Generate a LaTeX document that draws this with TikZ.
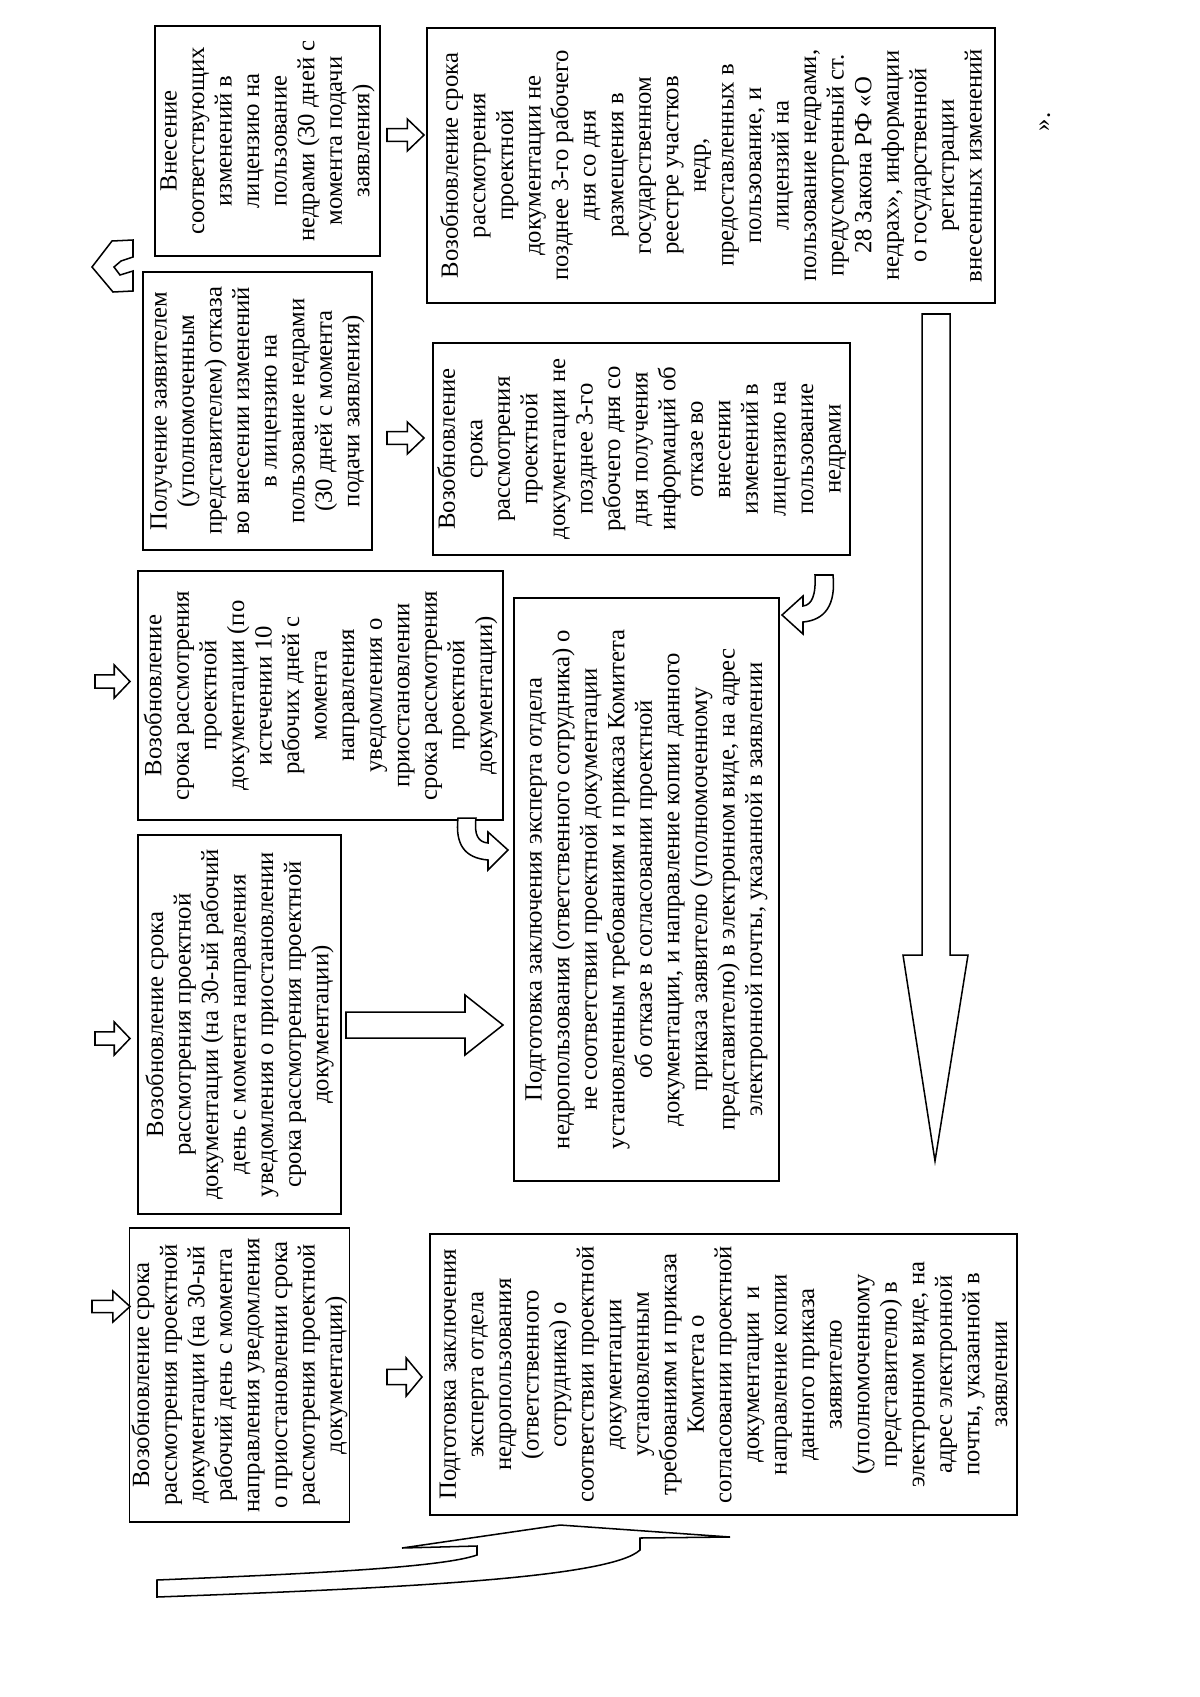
\documentclass[tikz,border=0pt]{standalone}
\usepackage{fontspec}
\setmainfont{Liberation Serif}
\begin{document}
\begin{tikzpicture}[x=0.0185cm,y=-0.0185cm,
  box/.style={draw, line width=0.8pt, rotate=90, align=center, inner sep=1pt,
    font=\fontsize{13}{14.5}\selectfont},
  blk/.style={draw, line width=0.8pt, fill=white, line join=miter}]
\useasboundingbox (0,0) rectangle (1200,1697);
\newcommand\bx[6]{\node[box, minimum width={(#5-#3)*0.0185cm}, minimum height={(#4-#2)*0.0185cm}] (#1) at ({(#2+#4)/2},{(#3+#5)/2}) {#6};}
\newcommand\rarr[4]{\draw[blk] (#1,{#2+0.3*(#4-#2)}) -- ({#1+0.55*(#3-#1)},{#2+0.3*(#4-#2)}) -- ({#1+0.55*(#3-#1)},#2) -- (#3,{(#2+#4)/2}) -- ({#1+0.55*(#3-#1)},#4) -- ({#1+0.55*(#3-#1)},{#2+0.7*(#4-#2)}) -- (#1,{#2+0.7*(#4-#2)}) -- cycle;}
% boxes
\bx{A}{155}{26}{380}{256}{Внесение\\соответствующих\\изменений в\\лицензию на\\пользование\\недрами (30 дней с\\момента подачи\\заявления)}
\bx{B}{143}{272}{372}{550}{Получение заявителем\\(уполномоченным\\представителем) отказа\\во внесении изменений\\в лицензию на\\пользование недрами\\(30 дней с момента\\подачи заявления)}
\bx{C}{427}{28}{995}{303}{Возобновление срока\\рассмотрения\\проектной\\документации не\\позднее 3-го рабочего\\дня со дня\\размещения в\\государственном\\реестре участков\\недр,\\предоставленных в\\пользование, и\\лицензий на\\пользование недрами,\\предусмотренный ст.\\28 Закона РФ «О\\недрах», информации\\о государственной\\регистрации\\внесенных изменений}
\bx{D}{433}{343}{850}{555}{Возобновление\\срока\\рассмотрения\\проектной\\документации не\\позднее 3-го\\рабочего дня со\\дня получения\\информаций об\\отказе во\\внесении\\изменений в\\лицензию на\\пользование\\недрами}
\bx{E}{138}{571}{503}{820}{Возобновление\\срока рассмотрения\\проектной\\документации (по\\истечении 10\\рабочих дней с\\момента\\направления\\уведомления о\\приостановлении\\срока рассмотрения\\проектной\\документации)}
\bx{F}{514}{598}{779}{1181}{Подготовка заключения эксперта отдела\\недропользования (ответственного сотрудника) о\\не соответствии проектной документации\\установленным требованиям и приказа Комитета\\об отказе в согласовании проектной\\документации, и направление копии данного\\приказа заявителю (уполномоченному\\представителю) в электронном виде, на адрес\\электронной почты, указанной в заявлении}
\bx{G}{138}{835}{341}{1214}{Возобновление срока\\рассмотрения проектной\\документации (на 30-ый рабочий\\день с момента направления\\уведомления о приостановлении\\срока рассмотрения проектной\\документации)}
\bx{H}{138}{1228}{341}{1522}{Возобновление срока\\рассмотрения проектной\\документации (на 30-ый\\рабочий день с момента\\направления уведомления\\о приостановлении срока\\рассмотрения проектной\\документации)}
\bx{I}{430}{1234}{1017}{1515}{Подготовка заключения\\эксперта отдела\\недропользования\\(ответственного\\сотрудника) о\\соответствии проектной\\документации\\установленным\\требованиям и приказа\\Комитета о\\согласовании проектной\\документации \ и\\направление копии\\данного приказа\\заявителю\\(уполномоченному\\представителю) в\\электронном виде, на\\адрес электронной\\почты, указанной в\\заявлении}
% small block arrows
\rarr{387}{119}{424}{151}
\rarr{387}{422}{424}{454}
\rarr{387}{1358}{422}{1396}
\rarr{95}{665}{130}{698}
\rarr{95}{1022}{130}{1055}
\rarr{92}{1291}{130}{1322}
% long arrow G -> F
\draw[blk] (346,1012) -- (465,1012) -- (465,995) -- (503,1025) -- (465,1055) -- (465,1038) -- (346,1038) -- cycle;
% chevron
\draw[blk] (92,267) -- (112,241) -- (133,240) -- (133,257) -- (121,261) -- (114,267) -- (120,275) -- (133,271) -- (133,291) -- (113,292) -- cycle;
% curved arrows
\draw[blk] (458,818) .. controls (455,845) and (465,858) .. (488,860) -- (488,870) -- (508,850) -- (488,832) -- (488,843) .. controls (478,842) and (474,835) .. (476,818) -- cycle;
\draw[blk] (833,575) .. controls (836,605) and (825,620) .. (803,622) -- (803,634) -- (782,615) -- (803,596) -- (803,606) .. controls (812,605) and (816,595) .. (815,575) -- cycle;
% big down arrow
\draw[blk] (922,314) -- (950,314) -- (950,955) -- (968,955) -- (935,1161) -- (903,955) -- (922,955) -- cycle;
% big bottom curved arrow
\draw[blk] (157,1580) -- (157,1597) .. controls (400,1588) and (610,1578) .. (640,1550) -- (640,1538) -- (730,1537) -- (560,1525) -- (402,1548) -- (477,1546) -- (477,1555) .. controls (440,1568) and (300,1574) .. (157,1580) -- cycle;
% end mark
\node[rotate=90, font=\fontsize{13}{14.5}\selectfont] (end) at (1045,122) {».};
\end{tikzpicture}
\end{document}
